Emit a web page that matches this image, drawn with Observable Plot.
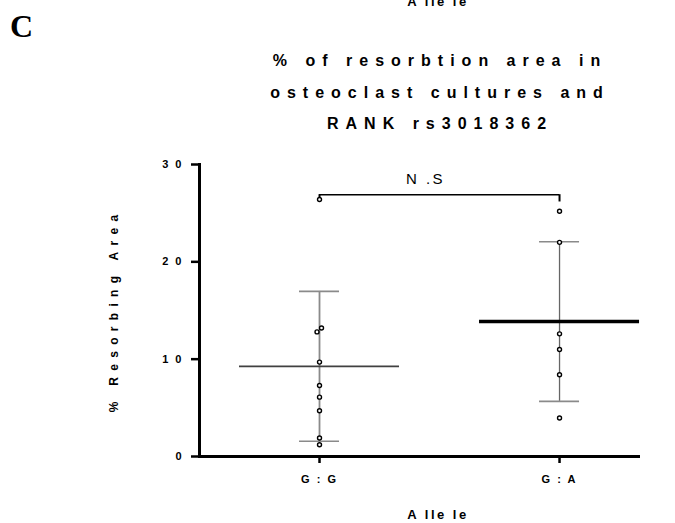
<!DOCTYPE html>
<html>
<head>
<meta charset="utf-8">
<script src="https://cdn.jsdelivr.net/npm/d3@7"></script>
<script src="https://cdn.jsdelivr.net/npm/@observablehq/plot@0.6"></script>
<style>
  html, body { margin: 0; padding: 0; background: #fff; }
  svg { font-family: "Liberation Sans", Arial, sans-serif; }
  .ytick text { font-size: 11px; font-weight: bold; letter-spacing: 7px; }
  .xtick text { font-size: 11px; font-weight: bold; letter-spacing: 2px; }
  .title text { font-size: 16px; font-weight: bold; letter-spacing: 7px; }
  .ylab text { font-size: 12px; font-weight: bold; letter-spacing: 6.3px; }
  .xlab text { font-size: 13px; font-weight: bold; letter-spacing: 2.5px; }
  .ns text { font-size: 15px; letter-spacing: 2.5px; }
  .panel text { font-family: "Liberation Serif", serif; font-size: 32px; font-weight: bold; }
</style>
</head>
<body>
<div id="chart"></div>
<script>
// ---- data ----
const alleles = ["G:G", "G:A"];
const tickLabels = ["G : G", "G : A"];
const ggValues = [26.4, 13.2, 12.8, 9.7, 7.3, 6.1, 4.7, 1.9, 1.2];
const ggJitter = [0, 2, -2.5, 0, 0, 0, 0, 0, 0];   // horizontal spread of overlapping dots (px)
const gaValues = [25.2, 22.0, 12.6, 11.0, 8.4, 3.95];
const gaJitter = [0, 0, 0, 0, 0, 0];
const means = [9.26, 13.86];
const sds = [7.7, 8.2];
const yTicks = [0, 10, 20, 30];
const bracketY = 26.9;
const titleLines = ["% of resorbtion area in", "osteoclast cultures and", "RANK rs3018362"];
const yLabel = "% Resorbing Area";
const xLabel = "A lle le";
const sigLabel = "N .S";
const panelLetter = "C";

// ---- build tables ----
const points = [
  ...ggValues.map((v, i) => ({g: 0, v, j: ggJitter[i]})),
  ...gaValues.map((v, i) => ({g: 1, v, j: gaJitter[i]}))
];
const summary = alleles.map((a, i) => ({g: i, mean: means[i], lo: means[i] - sds[i], hi: means[i] + sds[i]}));

const halfMean = 1 / 3;   // half-width of mean line (x units)
const halfCap = 1 / 12;   // half-width of SD caps
const meanStroke = ["#404040", "#000"];
const meanWidth = [1.8, 3.5];
const whiskerStroke = ["#8a8a8a", "#666"];
const whiskerWidth = [1.8, 1.3];

const chart = Plot.plot({
  width: 675,
  height: 523,
  marginTop: 164,
  marginBottom: 67,
  marginLeft: 199,
  marginRight: 37,
  x: {domain: [-0.5, 1.329], axis: null, label: null},
  y: {domain: [0, 30], axis: null, label: null},
  marks: [
    // whiskers
    Plot.ruleX(summary, {x: "g", y1: "lo", y2: "hi", stroke: d => whiskerStroke[d.g], strokeWidth: d => whiskerWidth[d.g]}),
    Plot.ruleY(summary, {y: "hi", x1: d => d.g - halfCap, x2: d => d.g + halfCap, stroke: "#8a8a8a", strokeWidth: 1.6}),
    Plot.ruleY(summary, {y: "lo", x1: d => d.g - halfCap, x2: d => d.g + halfCap, stroke: "#8a8a8a", strokeWidth: 1.6}),
    // mean lines
    Plot.ruleY(summary, {y: "mean", x1: d => d.g - halfMean, x2: d => d.g + halfMean, stroke: d => meanStroke[d.g], strokeWidth: d => meanWidth[d.g]}),
    // points
    Plot.dot(points, {x: "g", y: "v", r: 2, stroke: "#000", strokeWidth: 1.4, fill: "#fff",
      render: (index, scales, values, dims, ctx, next) => {
        const g = next(index, scales, values, dims, ctx);
        d3.select(g).selectAll("circle").attr("transform", (_, k) => `translate(${points[index[k]].j},0)`);
        return g;
      }}),
    // significance bracket
    Plot.ruleY([bracketY], {x1: 0, x2: 1, stroke: "#000", strokeWidth: 1.5}),
    Plot.ruleX([1], {y1: bracketY, y2: bracketY - 0.75, stroke: "#000", strokeWidth: 2}),
    Plot.ruleX([0], {y1: bracketY, y2: bracketY - 0.35, stroke: "#000", strokeWidth: 2}),
    Plot.text([sigLabel], {x: 0.5, y: bracketY, text: d => d, dy: -15, dx: -14, fill: "#000", className: "ns"}),
    // axes
    Plot.frame({anchor: "left", strokeWidth: 3}),
    Plot.frame({anchor: "bottom", strokeWidth: 3}),
    Plot.axisY({ticks: yTicks, tickSize: 8, tickPadding: 3, strokeWidth: 2.5, fill: "#000", label: null, className: "ytick", tickFormat: d => String(d)}),
    Plot.axisX({ticks: [0, 1], tickSize: 7, tickPadding: 12, strokeWidth: 2.5, fill: "#000", label: null, className: "xtick", tickFormat: i => tickLabels[i]}),
    // labels
    Plot.text([yLabel], {frameAnchor: "left", text: d => d, rotate: -90, textAnchor: "middle", dx: -85, fill: "#000", className: "ylab"}),
    Plot.text([xLabel], {frameAnchor: "bottom", text: d => d, dy: 62, dx: 19, fill: "#000", className: "xlab"}),
    Plot.text([xLabel], {frameAnchor: "top", text: d => d, dy: -168, dx: 19, fill: "#000", className: "xlab"}),
    Plot.text([titleLines[0]], {frameAnchor: "top", text: d => d, dy: -110, dx: 21, fill: "#000", className: "title"}),
    Plot.text([titleLines[1]], {frameAnchor: "top", text: d => d, dy: -78, dx: 21, fill: "#000", className: "title"}),
    Plot.text([titleLines[2]], {frameAnchor: "top", text: d => d, dy: -47, dx: 21, fill: "#000", className: "title"}),
    Plot.text([panelLetter], {frameAnchor: "top-left", text: d => d, dy: -150, dx: -178, fill: "#000", textAnchor: "middle", className: "panel"})
  ]
});
document.getElementById("chart").appendChild(chart);
</script>
</body>
</html>
